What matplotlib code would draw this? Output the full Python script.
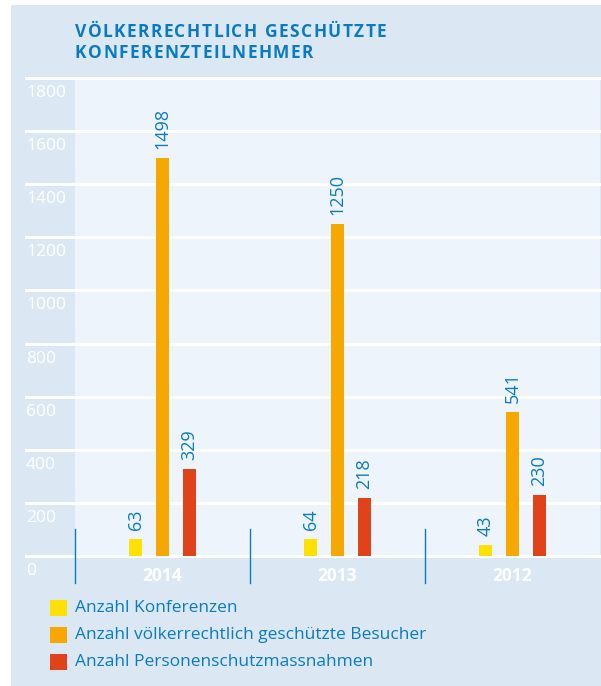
import matplotlib
matplotlib.use("Agg")
import matplotlib.pyplot as plt
from matplotlib.patches import Rectangle
import numpy as np

plt.rcParams['font.family'] = ['Open Sans', 'DejaVu Sans']

title_lines = ["VÖLKERRECHTLICH GESCHÜTZTE", "KONFERENZTEILNEHMER"]
years = ["2014", "2013", "2012"]
series_names = ["Anzahl Konferenzen",
                "Anzahl völkerrechtlich geschützte Besucher",
                "Anzahl Personenschutzmassnahmen"]
konferenzen = [63, 64, 43]
besucher = [1498, 1250, 541]
personenschutz = [329, 218, 230]
y_ticks = [0, 200, 400, 600, 800, 1000, 1200, 1400, 1600, 1800]

colors = ["#ffe100", "#f7a800", "#e0431a"]
bg = "#dbe8f4"
plot_bg = "#eef4fb"
blue = "#0a7bc1"

W, H = 601, 686
fig = plt.figure(figsize=(W / 100, H / 100), dpi=100)
fig.patch.set_facecolor("white")

def fx(px):
    return px / W

def fy(py):
    return 1 - py / H

fig.patches.append(Rectangle((fx(11), 0), fx(W) - fx(11), fy(5), transform=fig.transFigure,
                             facecolor=bg, edgecolor="none", zorder=-10))

left, right, top, bottom = 75, 600, 78, 556
ax = fig.add_axes([fx(left), fy(bottom), fx(right) - fx(left), fy(top) - fy(bottom)])
ax.set_zorder(1)
ax.set_facecolor(plot_bg)
ax.set_xlim(-0.5, 2.5)
ax.set_ylim(0, 1800)
for s in ax.spines.values():
    s.set_visible(False)
ax.set_xticks([])
ax.set_yticks([])

# gridlines extending left of the axes
gx0 = (26 - left) / (right - left)
ytr = ax.get_yaxis_transform()
for v in y_ticks:
    ax.plot([gx0, 1.0], [v, v], transform=ytr, color="white", lw=2.2, clip_on=False, zorder=1)
    ax.annotate(str(v), xy=(gx0, v), xycoords=ytr, xytext=(0, -5), textcoords="offset points",
                ha="left", va="top", color="white", fontsize=12.5, annotation_clip=False)

x = np.arange(len(years))
off = 0.154
w = 0.074
data = [konferenzen, besucher, personenschutz]
for k, (vals, c) in enumerate(zip(data, colors)):
    xs = x + (k - 1) * off
    ax.bar(xs, vals, width=w, color=c, zorder=3)
    for xi, v in zip(xs, vals):
        ax.annotate(str(v), xy=(xi, v), xytext=(0, 6.5), textcoords="offset points",
                    rotation=90, ha="center", va="bottom", color=blue, fontsize=13)

# separators
for b in [-0.5, 0.5, 1.5]:
    ax.plot([b, b], [102, -102], color=blue, lw=1.0, clip_on=False, zorder=4)

for xi, yr in zip(x, years):
    ax.annotate(yr, xy=(xi, 0), xytext=(0, -8), textcoords="offset points",
                ha="center", va="top", color="white", fontsize=12.5, fontweight="bold",
                annotation_clip=False)

# title with letter spacing
fig.canvas.draw()
renderer = fig.canvas.get_renderer()
track = 1.4  # px extra per char
for i, t in enumerate(title_lines):
    xpos = 75.0
    for ch in t:
        tt = fig.text(fx(xpos), fy(32 + 21 * i), ch, ha="left", va="center", color=blue,
                      fontsize=12.5, fontweight="bold")
        wpx = tt.get_window_extent(renderer).width
        if ch == " ":
            wpx = 4.5
        xpos += wpx + track

# legend
for i, (name, c) in enumerate(zip(series_names, colors)):
    yc = 608 + 27 * i
    fig.patches.append(Rectangle((fx(50), fy(yc + 8)), fx(17), 16 / H, transform=fig.transFigure,
                                 facecolor=c, edgecolor="none", zorder=2))
    fig.text(fx(75), fy(yc), name, ha="left", va="center", color=blue, fontsize=12.5)

fig.savefig("out.png", dpi=100, facecolor=fig.get_facecolor())
